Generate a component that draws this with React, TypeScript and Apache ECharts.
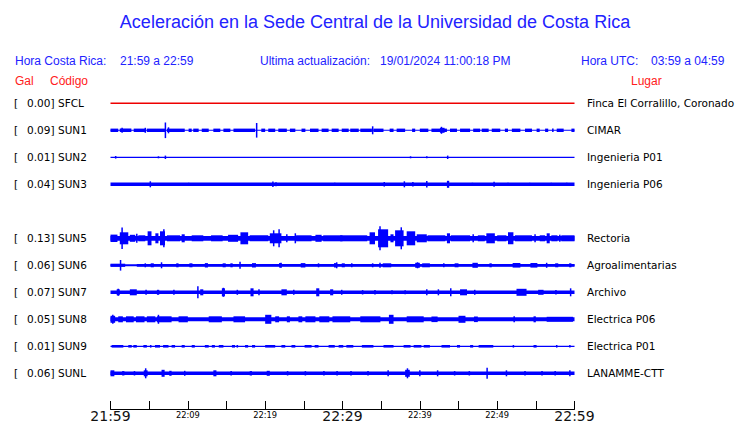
import React, { useEffect, useRef } from "react";
import * as echarts from "echarts";

// ---- data ----
const titleText = "Aceleración en la Sede Central de la Universidad de Costa Rica";
const stations = ["SFCL", "SUN1", "SUN2", "SUN3", "SUN5", "SUN6", "SUN7", "SUN8", "SUN9", "SUNL"];
const rowSlots = [0, 1, 2, 3, 5, 6, 7, 8, 9, 10];
const galValues = ["0.00", "0.09", "0.01", "0.04", "0.13", "0.06", "0.07", "0.05", "0.01", "0.06"];
const places = [
  "Finca El Corralillo, Coronado", "CIMAR", "Ingenieria P01", "Ingenieria P06", "Rectoria",
  "Agroalimentarias", "Archivo", "Electrica P06", "Electrica P01", "LANAMME-CTT",
];
const timeLabels = ["21:59", "22:09", "22:19", "22:29", "22:39", "22:49", "22:59"];
// base half-amplitude of each trace (offset units, 27 per row)
const baseAmp = [0.7, 0.55, 0.6, 1.7, 2.4, 1.0, 1.7, 2.0, 0.6, 1.7];

// segments [startMinute, endMinute, halfAmplitude]
const sfcl: number[][] = [];
const sun1 = [
  [0, 1.0, 1.7], [1.2, 2.7, 1.7], [3.0, 4.5, 1.7], [4.7, 7.05, 1.7], [7.3, 9.6, 1.7], [10.1, 10.5, 1.7],
  [10.7, 11.4, 1.7], [11.8, 12.7, 1.7], [13.3, 14.2, 1.7], [14.6, 15.5, 1.7], [15.9, 18.7, 1.7], [19.5, 20.0, 1.7],
  [20.4, 21.3, 1.7], [21.7, 22.8, 1.7], [23.2, 23.9, 1.7], [24.7, 25.2, 1.7], [25.8, 26.9, 1.7], [27.3, 28.2, 1.7],
  [28.6, 29.5, 1.7], [29.9, 30.8, 1.7], [31.0, 32.1, 1.7], [32.3, 33.8, 1.7], [34.0, 35.3, 1.7], [36.1, 36.6, 1.7],
  [37.0, 38.1, 1.7], [39.0, 39.4, 1.7], [40.0, 41.1, 1.7], [41.5, 43.5, 1.7], [43.9, 44.8, 1.7], [45.2, 46.5, 1.7],
  [46.9, 47.8, 1.7], [48.0, 48.9, 1.7], [49.3, 50.4, 1.7], [51.0, 51.4, 1.7], [51.9, 53.0, 1.7], [53.6, 54.5, 1.7],
  [55.1, 55.5, 1.7], [56.2, 56.6, 1.7], [57.1, 57.3, 1.7], [57.7, 58.6, 1.7], [59.6, 60, 1.7],
  [1.5, 1.5, 2.5], [4.5, 4.5, 2.5], [7.1, 7.1, 7.8], [7.5, 7.5, 3], [18.9, 18.9, 7.3], [33.9, 33.9, 4],
  [42.6, 43.2, 2.5], [42.8, 42.8, 3.5],
];
const sun2 = [[0.67, 0.67, 1.3], [6.2, 6.2, 1], [7.1, 7.1, 1.7], [38.8, 38.8, 1], [40.9, 40.9, 1], [43.6, 43.6, 1.7]];
const sun3 = [
  [5.15, 5.15, 3], [10.1, 10.1, 1.5], [21.0, 21.0, 2.7], [21.4, 21.4, 2], [29.0, 29.0, 1.5], [35.4, 35.4, 2.3],
  [38.0, 38.0, 3], [39.0, 39.2, 2.3], [40.9, 40.9, 3.3], [43.5, 43.8, 3.5], [46.8, 46.8, 1.5], [49.6, 49.6, 2.5],
  [51.4, 51.4, 1.5], [54.2, 54.2, 1.5], [57.0, 57.0, 1.5], [59.0, 59.0, 1.5],
];
const sun5 = [
  [0, 0.9, 3.7], [1.2, 2.3, 6], [1.5, 1.5, 10.7], [2.5, 3.2, 3.5], [3.4, 3.4, 4.5], [3.6, 4.5, 3], [4.8, 5.3, 7],
  [5.8, 6.2, 5], [6.4, 7.05, 7], [6.9, 6.9, 9], [7.3, 9.0, 3], [9.2, 9.6, 4], [10.5, 12, 3], [13, 14.5, 3],
  [15.2, 16.5, 3.5], [16.8, 17.8, 6], [18, 20.4, 3], [20.6, 22.1, 5], [21.1, 21.1, 8], [21.8, 21.8, 9],
  [22.8, 22.8, 4], [23.9, 23.9, 5], [24, 26, 3], [26.5, 27.3, 3.5], [27.5, 30, 3], [29.7, 33.2, 3],
  [33.5, 34.2, 6], [34.6, 35.9, 9], [34.85, 34.85, 12], [36.2, 36.6, 4], [36.8, 37.9, 8], [37.6, 37.6, 11],
  [38.3, 39.4, 7], [39.6, 40.9, 4], [41, 43.3, 3], [43.5, 43.9, 5], [44, 46.5, 3], [46.9, 46.9, 4],
  [47.5, 48.4, 3], [48.6, 49.7, 5], [50, 51.2, 3], [51.4, 52.1, 6], [52.3, 54.5, 3], [54.9, 54.9, 4],
  [55.5, 56.2, 3], [56.4, 56.8, 5], [57, 57.8, 3], [58.1, 58.1, 3.5], [58.3, 60, 3],
];
const sun6 = [
  [0, 1.9, 1.6], [3.4, 60, 1.4], [1.3, 1.3, 5.3], [4.5, 4.5, 2], [5.2, 5.6, 2], [6.6, 6.6, 3], [8.5, 8.8, 2],
  [10.2, 10.6, 2], [12.2, 12.6, 2.2], [14.5, 14.9, 2], [15.5, 15.8, 2], [16.75, 16.75, 3.5], [18.3, 18.8, 2.2],
  [21.8, 22.1, 2.3], [22.05, 22.05, 2.5], [24.6, 25.2, 2.2], [26.9, 26.9, 2], [28.9, 29.3, 2.2], [29.25, 29.25, 3],
  [29.9, 30.3, 2], [31.2, 31.2, 2], [33.8, 34.0, 2], [34.85, 34.85, 2.5], [35.2, 36.3, 2], [39.4, 40, 2.5],
  [39.7, 39.7, 3], [40.3, 41.3, 2], [43.0, 43.2, 2], [44.5, 45, 2], [46.8, 47.5, 2.5], [49, 49.3, 2],
  [52, 53, 2.3], [54.3, 55.2, 2.3], [56.4, 56.4, 2.5], [57.5, 57.9, 2], [59.3, 59.6, 2],
];
const sun7 = [
  [0.8, 1.2, 3], [1.0, 1.0, 3.5], [2.5, 3.4, 3], [4.5, 4.7, 2.5], [6.0, 6.3, 2.5], [8.1, 8.3, 2.5], [11.3, 11.3, 6],
  [11.6, 12.0, 3], [14.4, 14.8, 4], [14.6, 14.6, 4.5], [16.3, 16.5, 2.5], [18.1, 18.5, 4], [19.2, 19.2, 3],
  [22.1, 22.8, 3], [23.6, 23.8, 2.5], [26.6, 27.0, 4], [28.4, 28.8, 3], [29.9, 29.9, 2.5], [32.5, 32.7, 2.2],
  [34.1, 34.3, 2.2], [36.4, 36.4, 2], [38.0, 38.2, 2], [40.9, 40.9, 3], [42.4, 42.4, 3], [44.0, 44.0, 4],
  [45.2, 46.1, 3], [47.0, 47.2, 2.5], [52.5, 53.8, 3.5], [55.3, 56.0, 2.5], [57.5, 57.7, 2.2], [59.5, 59.5, 4],
];
const sun8 = [
  [0, 0.6, 3.5], [0.3, 0.3, 4.5], [1.0, 1.6, 3], [2.0, 3.0, 3], [3.3, 4.4, 3], [4.7, 5.8, 3], [6.0, 7.9, 3],
  [6.2, 6.2, 4.5], [8.8, 10.0, 3], [12.7, 14.4, 3], [15.9, 17.4, 3], [20, 20.8, 4.5], [21.3, 21.8, 3],
  [22.8, 23.2, 3], [24.3, 24.8, 3], [25.2, 26.5, 3], [27, 28.3, 3], [28.7, 31, 3], [32.3, 34.9, 3],
  [36, 36.6, 4.5], [38.3, 40.5, 3], [41.5, 42.3, 2.8], [45, 45.9, 3.5], [47, 47.5, 2.8], [52.1, 52.3, 3],
  [54.7, 55, 3], [56.4, 59.8, 2.5],
];
const sun9 = [
  [0.15, 1.66, 1.3], [2.3, 2.75, 1.3], [2.95, 3.4, 1.3], [4.25, 4.7, 1.3], [5.1, 5.3, 1.3], [5.75, 6.4, 1.3],
  [6.8, 7.5, 1.3], [7.9, 8.35, 1.3], [9.2, 9.6, 1.3], [10.5, 10.9, 1.3], [12.2, 12.7, 1.3], [13.1, 13.5, 1.3],
  [14, 14.6, 1.3], [15.7, 16.1, 1.3], [16.3, 16.5, 1.3], [17.4, 17.8, 1.3], [18.3, 18.7, 1.3], [20, 21.3, 1.3],
  [22.1, 22.6, 1.3], [23.4, 23.9, 1.3], [25.1, 26, 1.3], [26.4, 26.9, 1.3], [28.2, 29, 1.3], [29.5, 30.1, 1.3],
  [30.5, 31.4, 1.3], [32.5, 34, 1.3], [35.3, 36.6, 1.3], [37.9, 38.8, 1.3], [39.2, 40.2, 1.3], [40.5, 41.3, 1.3],
  [42.8, 43.9, 1.3], [44.8, 45.2, 1.3], [46.5, 46.9, 1.3], [47.6, 49.5, 1.3], [52.1, 52.1, 1.3],
  [54.7, 55.1, 1.3], [57.7, 57.7, 1.3], [59.4, 59.4, 1.3],
];
const sunl = [
  [0, 0.5, 3], [1.5, 1.8, 2.2], [3.0, 3.2, 2.2], [4.3, 4.8, 3], [4.55, 4.55, 5], [6.6, 7.0, 3.5], [7.6, 7.9, 2.5],
  [9.6, 9.6, 2.5], [13.3, 13.7, 3], [15.5, 15.7, 2.2], [18.0, 18.3, 2.2], [20.2, 20.6, 2.5], [22.8, 23.0, 2.2],
  [25.1, 25.3, 2.2], [27.5, 27.7, 2.2], [29.2, 29.4, 2.2], [31, 31.2, 2.2], [33.2, 33.4, 2.2], [35.9, 35.9, 3],
  [38.1, 38.7, 3.5], [38.4, 38.4, 5], [40, 40, 3], [42.3, 42.3, 3], [44.4, 44.6, 2.2], [46.3, 46.5, 2.2],
  [48.7, 48.7, 5.5], [51.2, 51.2, 3], [53.5, 53.7, 2.2], [55.7, 55.9, 2.2], [57.4, 57.6, 2.2], [59.4, 59.4, 3],
];
const traceSegments = [sfcl, sun1, sun2, sun3, sun5, sun6, sun7, sun8, sun9, sunl];

// ---- layout / style ----
const ROW_UNITS = 27;
const ROW0_Y = 103.3;
const BLUE_TEXT = "#2222ff";
const RED_TEXT = "#ff2020";
const TRACE_BLUE = "#0000ff";
const HEADER_FONT = '"Liberation Sans", Arial, sans-serif';
const LABEL_FONT = '"DejaVu Sans", sans-serif';

export default function App() {
  const ref = useRef<HTMLDivElement>(null);
  useEffect(() => {
    if (!ref.current) return;
    const chart = echarts.init(ref.current, null, { renderer: "svg" });

    const series: any[] = stations.map((st, i) => {
      const rowY = rowSlots[i] * ROW_UNITS;
      const color = i === 0 ? "#ee0000" : TRACE_BLUE;
      const data = [[0, 60, baseAmp[i]], ...traceSegments[i]];
      return {
        type: "custom",
        name: st,
        data,
        silent: true,
        renderItem: (_p: any, api: any) => {
          const s = api.value(0);
          const e = api.value(1);
          const a = api.value(2);
          const p0 = api.coord([s, rowY]);
          const p1 = api.coord([e, rowY]);
          const h = Math.abs(api.size([0, a])[1]);
          let x = p0[0];
          let w = p1[0] - p0[0];
          if (w < 1.5) {
            x = p0[0] - 0.75;
            w = 1.5;
          }
          return {
            type: "rect",
            shape: { x, y: p0[1] - h, width: w, height: 2 * h },
            style: { fill: color },
          };
        },
      };
    });

    const txt = (text: string, x: number, y: number, fill: string, size: number, family: string, align = "left") => ({
      type: "text",
      x,
      y,
      silent: true,
      style: { text, fill, fontSize: size, fontFamily: family, align, verticalAlign: "middle" },
    });

    const graphics: any[] = [
      txt(titleText, 375, 22, BLUE_TEXT, 18, HEADER_FONT, "center"),
      txt("Hora Costa Rica:", 15, 60.5, BLUE_TEXT, 12, HEADER_FONT),
      txt("21:59 a 22:59", 120, 60.5, BLUE_TEXT, 12, HEADER_FONT),
      txt("Ultima actualización:", 260, 60.5, BLUE_TEXT, 12, HEADER_FONT),
      txt("19/01/2024 11:00:18 PM", 380, 60.5, BLUE_TEXT, 12, HEADER_FONT),
      txt("Hora UTC:", 581, 60.5, BLUE_TEXT, 12, HEADER_FONT),
      txt("03:59 a 04:59", 651, 60.5, BLUE_TEXT, 12, HEADER_FONT),
      txt("Gal", 15, 80.5, RED_TEXT, 12, HEADER_FONT),
      txt("Código", 50, 80.5, RED_TEXT, 12, HEADER_FONT),
      txt("Lugar", 631, 80.5, RED_TEXT, 12, HEADER_FONT),
    ];
    stations.forEach((st, i) => {
      const y = ROW0_Y + rowSlots[i] * ROW_UNITS;
      graphics.push(txt("[", 14, y, "#000", 10.5, LABEL_FONT));
      graphics.push(txt(galValues[i] + "]", 54.5, y, "#000", 10.5, LABEL_FONT, "right"));
      graphics.push(txt(st, 58, y, "#000", 10.5, LABEL_FONT));
      graphics.push(txt(places[i], 587, y, "#000", 10.5, LABEL_FONT));
    });

    const gridTop = ROW0_Y - ROW_UNITS / 2;
    const gridHeight = ROW_UNITS * 11;
    const axisY = 409;

    chart.setOption({
      animation: false,
      backgroundColor: "#ffffff",
      grid: { left: 110.5, width: 464, top: gridTop, height: gridHeight },
      xAxis: {
        type: "value",
        min: 0,
        max: 60,
        interval: 5,
        position: "bottom",
        offset: axisY - (gridTop + gridHeight),
        axisLine: { show: true, onZero: false, lineStyle: { color: "#000", width: 1 } },
        axisTick: { show: true, inside: true, length: 8, lineStyle: { color: "#000", width: 1 } },
        splitLine: { show: false },
        axisLabel: {
          show: true,
          margin: 6.5,
          verticalAlign: "middle",
          showMinLabel: true,
          showMaxLabel: true,
          hideOverlap: false,
          formatter: (v: number) => {
            if (v % 10 !== 0) return "";
            const lbl = timeLabels[Math.round(v / 10)];
            return v % 30 === 0 ? `{big|${lbl}}` : `{small|${lbl}}`;
          },
          rich: {
            big: { fontSize: 14, fontFamily: LABEL_FONT, color: "#111" },
            small: { fontSize: 8.3, fontFamily: LABEL_FONT, color: "#000", padding: [0, 0, 2, 0] },
          },
        },
      },
      yAxis: {
        type: "value",
        inverse: true,
        min: -ROW_UNITS / 2,
        max: ROW_UNITS * 11 - ROW_UNITS / 2,
        show: false,
      },
      series,
      graphic: graphics,
    });
    return () => chart.dispose();
  }, []);
  return (
    <div
      ref={ref}
      style={{ position: "fixed", left: 0, top: 0, width: 740, height: 423, background: "#fff" }}
    />
  );
}
